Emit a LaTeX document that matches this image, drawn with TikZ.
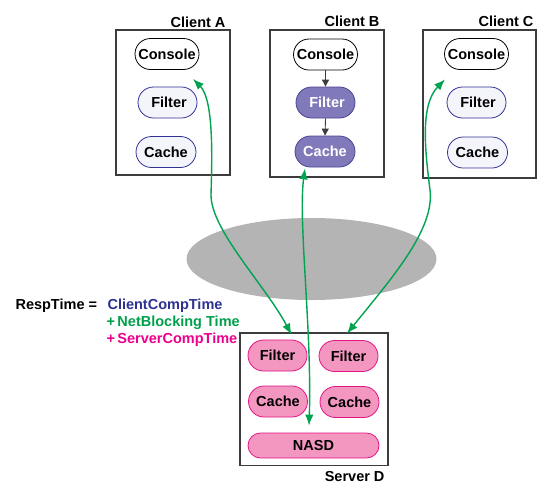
\documentclass[tikz,border=0pt]{standalone}
\usepackage{fontspec}
\setmainfont{Liberation Sans}
\usetikzlibrary{arrows.meta,calc,shapes.geometric}
\definecolor{boxgray}{RGB}{60,60,60}
\definecolor{bluedk}{RGB}{50,50,150}
\definecolor{lightlav}{RGB}{244,244,251}
\definecolor{purplefill}{RGB}{128,122,186}
\definecolor{purpledk}{RGB}{75,68,150}
\definecolor{pinkfill}{RGB}{243,150,192}
\definecolor{pinkdk}{RGB}{228,20,135}
\definecolor{netgreen}{RGB}{0,163,80}
\definecolor{cloudgray}{RGB}{180,180,180}
\definecolor{txtblue}{RGB}{46,49,146}
\definecolor{txtgreen}{RGB}{0,160,75}
\definecolor{txtmag}{RGB}{236,0,140}
\begin{document}
\begin{tikzpicture}[x=1pt,y=-1pt,
  font=\fontsize{14.5}{17}\selectfont\bfseries,
  pill/.style={rounded corners=15.5pt, inner sep=0pt, line width=0.8pt, minimum height=31pt, minimum width=60pt},
  console/.style={pill, draw=black, fill=white, minimum width=64pt},
  lightpill/.style={pill, draw=bluedk, fill=lightlav},
  purplepill/.style={pill, draw=purpledk, fill=purplefill, text=white},
  pinkpill/.style={pill, draw=pinkdk, fill=pinkfill},
  clientbox/.style={draw=boxgray, line width=1.1pt, fill=white, inner sep=0pt},
  boxlabel/.style={anchor=base east},
  eqtext/.style={anchor=base west},
  flowarrow/.style={draw=boxgray, line width=0.9pt, -{Triangle[length=7pt,width=7pt]}},
  netarrow/.style={draw=netgreen, line width=1.4pt, {Latex[length=11pt,width=8.5pt]}-{Latex[length=11pt,width=8.5pt]}}
]
\useasboundingbox (0,0) rectangle (540,483);

% client boxes
\node[clientbox, minimum width=114pt, minimum height=145pt] (boxA) at (173,102.5) {};
\node[clientbox, minimum width=114pt, minimum height=147pt] (boxB) at (327,103.5) {};
\node[clientbox, minimum width=113pt, minimum height=148pt] (boxC) at (479.5,104) {};
\node[clientbox, minimum width=148pt, minimum height=132.5pt] (boxD) at (314,399.25) {};

\node[boxlabel] (labA) at (229,27) {Client A};
\node[boxlabel] (labB) at (383,26) {Client B};
\node[boxlabel] (labC) at (537,26) {Client C};
\node[boxlabel] (labD) at (388,481) {Server D};

% client A
\node[console] (conA) at (167,54) {Console};
\node[lightpill, minimum width=59pt] (filA) at (167.5,102.5) {\hspace{3pt}Filter};
\node[lightpill] (cacA) at (166,152) {Cache};

% client B
\node[console] (conB) at (325.5,54.5) {Console};
\node[purplepill, minimum width=59pt] (filB) at (325.5,102.5) {\hspace{3pt}Filter};
\node[purplepill] (cacB) at (325,151.5) {Cache};
\draw[flowarrow] (conB.south) -- (filB.north);
\draw[flowarrow] (filB.south) -- (cacB.north);

% client C
\node[console] (conC) at (476.5,54) {Console};
\node[lightpill, minimum width=59pt] (filC) at (476.5,102.5) {\hspace{3pt}Filter};
\node[lightpill] (cacC) at (477.5,152.5) {Cache};

% server D
\node[pinkpill, minimum width=59pt] (filD1) at (277.5,355.5) {Filter};
\node[pinkpill, minimum width=59pt] (filD2) at (348.5,356) {Filter};
\node[pinkpill, minimum width=59pt] (cacD1) at (278,401.5) {Cache};
\node[pinkpill, minimum width=59pt] (cacD2) at (349.5,402) {Cache};
\node[pinkpill, minimum width=131pt, minimum height=25pt, rounded corners=12.5pt] (nasd) at (313.5,445.5) {NASD};

% network cloud
\node[ellipse, fill=cloudgray, minimum width=250pt, minimum height=82pt, inner sep=0pt] (net) at (311.5,259) {};

% equation
\node[eqtext] (resp) at (12,309) {RespTime =};
\node[eqtext, text=txtblue] (cct) at (104,309) {ClientCompTime};
\node[eqtext, text=txtgreen] (nbt) at (103,326) {+\hspace{2.5pt}NetBlocking Time};
\node[eqtext, text=txtmag] (sct) at (103,343) {+\hspace{2.5pt}ServerCompTime};

% network arrows
\draw[netarrow] ($(conA.south)+(26,9)$) .. controls (214,100) and (212,160) .. (211,195)
   .. controls (211,230) and (265,285) .. ($(filD1.north)+(14,-5)$);
\draw[netarrow] ($(conC.south)+(-31.5,9.5)$) .. controls (420,105) and (425,150) .. (430,190)
   .. controls (435,230) and (390,280) .. ($(filD2.north)+(-1.5,-6.5)$);
\draw[netarrow] ($(cacB.south)+(-20,1)$) .. controls (298,220) and (312,330) .. ($(nasd.north)+(-4.5,-7)$);
\end{tikzpicture}
\end{document}
